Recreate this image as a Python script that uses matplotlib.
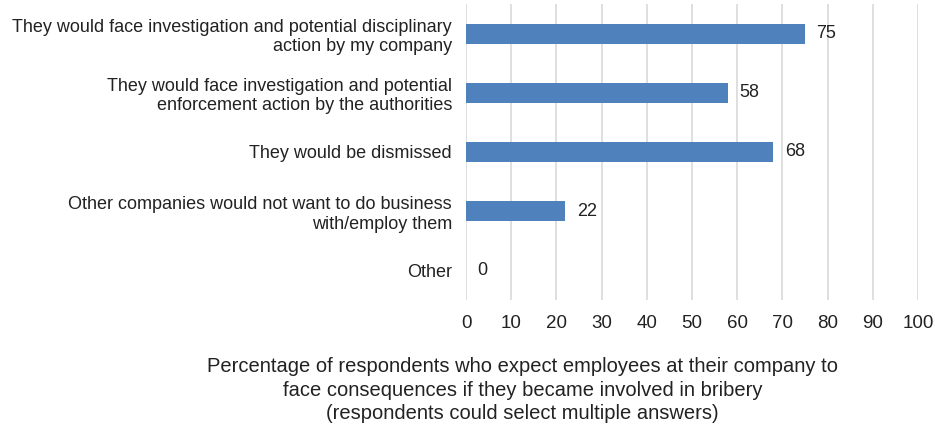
import numpy as np
import matplotlib.pyplot as plt

plt.rcParams['font.family'] = ['Liberation Sans', 'DejaVu Sans']

categories = [
    "They would face investigation and potential disciplinary\naction by my company",
    "They would face investigation and potential\nenforcement action by the authorities",
    "They would be dismissed",
    "Other companies would not want to do business\nwith/employ them",
    "Other",
]
values = [75, 58, 68, 22, 0]
xticks = list(range(0, 101, 10))
xlabel = ("Percentage of respondents who expect employees at their company to\n"
          "face consequences if they became involved in bribery\n"
          "(respondents could select multiple answers)")

fig = plt.figure(figsize=(9.35, 4.29), dpi=100)
ax = fig.add_axes([0.4984, 0.3007, 0.4834, 0.6900])

y = np.arange(len(categories))
ax.barh(y, values, height=0.34, color='#4F81BD', zorder=3)
for yi, v in zip(y, values):
    ax.text(v + 2.5, yi, str(v), va='center', ha='left', fontsize=13, color='#222222')

ax.set_ylim(len(categories) - 0.5, -0.5)
ax.set_xlim(0, 100)
ax.set_xticks(xticks)
ax.set_yticks(y)
ax.set_yticklabels(categories, fontsize=13, color='#222222')
ax.tick_params(axis='x', labelsize=13.5, colors='#222222', length=0, pad=11)
ax.tick_params(axis='y', length=0, pad=10)
ax.grid(axis='x', color='#D9D9D9', linewidth=1.2, zorder=0)
for s in ax.spines.values():
    s.set_visible(False)

fig.text(0.559, 0.0909, xlabel, ha='center', va='center', fontsize=14.5,
         color='#222222', linespacing=1.27)

fig.savefig('out.png', dpi=100)
